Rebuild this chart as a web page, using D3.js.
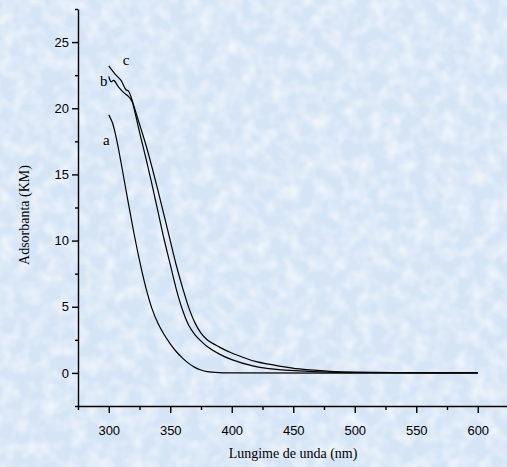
<!DOCTYPE html>
<html>
<head>
<meta charset="utf-8">
<script src="https://cdn.jsdelivr.net/npm/d3@7"></script>
<style>
  body { margin: 0; background: #dae8f6; }
  svg { display: block; }
</style>
</head>
<body>
<div id="chart"></div>
<script>
// canvas size
var svgWidth = 507;
var svgHeight = 467;

// spectra: [wavelength nm, absorbance KM]
var curveA = [[300, 19.5], [303, 18.9], [306, 17.8], [310, 15.9], [315, 13.3], [320, 10.8],
  [325, 8.5], [330, 6.5], [335, 4.9], [340, 3.75], [345, 2.9], [350, 2.2], [355, 1.6],
  [360, 1.12], [365, 0.72], [370, 0.42], [375, 0.22], [380, 0.1], [390, 0.02], [400, 0], [600, 0]];

var curveB = [[300, 22.4], [302, 22.0], [304, 22.1], [308, 21.6], [312, 21.2], [316, 20.9],
  [319, 20.5], [320, 20.2], [325, 18.2], [330, 16.3], [335, 14.3], [340, 12.2], [345, 10.1],
  [350, 8.2], [355, 6.3], [360, 4.75], [365, 3.6], [370, 2.9], [375, 2.4], [380, 2.0],
  [390, 1.42], [400, 1.0], [417, 0.53], [430, 0.33], [455, 0.15], [480, 0.06], [500, 0.03],
  [550, 0.01], [600, 0]];

var curveC = [[300, 23.2], [305, 22.6], [310, 22.1], [314, 21.4], [316, 21.3], [319, 20.6],
  [320, 20.3], [325, 18.8], [330, 17.3], [335, 15.6], [340, 13.8], [345, 11.9], [350, 10.0],
  [355, 8.1], [360, 6.45], [365, 4.95], [370, 3.8], [375, 3.0], [380, 2.5], [390, 1.95],
  [400, 1.5], [410, 1.15], [420, 0.85], [440, 0.5], [455, 0.3], [480, 0.12], [500, 0.06],
  [550, 0.02], [600, 0]];

var curveLabels = [
  {name: "a", x: 298, y: 17.2},
  {name: "b", x: 296, y: 21.7},
  {name: "c", x: 314, y: 23.3}
];

var xTicks = [300, 350, 400, 450, 500, 550, 600];
var xMinor = [275, 325, 375, 425, 475, 525, 575];
var yTicks = [0, 5, 10, 15, 20, 25];
var yMinor = [-2.5, 2.5, 7.5, 12.5, 17.5, 22.5, 27.5];

var svg = d3.select("#chart").append("svg")
  .attr("width", svgWidth)
  .attr("height", svgHeight);

// light blue mottled backdrop
var defs = svg.append("defs");
var filt = defs.append("filter").attr("id", "tex")
  .attr("x", 0).attr("y", 0).attr("width", "100%").attr("height", "100%");
filt.append("feTurbulence")
  .attr("type", "fractalNoise")
  .attr("baseFrequency", "0.07")
  .attr("numOctaves", 2)
  .attr("seed", 3);
filt.append("feColorMatrix")
  .attr("type", "matrix")
  .attr("values", "0 0 0 0 1  0 0 0 0 1  0 0 0 0 1  0 0 0 1.8 -0.7");

svg.append("rect")
  .attr("width", svgWidth).attr("height", svgHeight)
  .attr("fill", "#d6e5f6");
svg.append("rect")
  .attr("width", svgWidth).attr("height", svgHeight)
  .attr("filter", "url(#tex)")
  .attr("opacity", 0.7);

// scales
var x = d3.scaleLinear().domain([275, 625]).range([78, 508.5]);
var y = d3.scaleLinear().domain([-2.5, 27.5]).range([406, 9]);

// x axis
var xAxis = svg.append("g")
  .attr("transform", "translate(0,406)")
  .call(d3.axisBottom(x).tickValues(xTicks).tickSize(7).tickSizeOuter(0));
svg.append("g")
  .attr("transform", "translate(0,406)")
  .call(d3.axisBottom(x).tickValues(xMinor).tickSize(4).tickFormat("").tickSizeOuter(0))
  .select(".domain").remove();
xAxis.selectAll("text")
  .attr("dy", "1.45em")
  .style("font-family", "'Liberation Sans', Arial, sans-serif")
  .style("font-size", "13px");

// y axis
var yAxis = svg.append("g")
  .attr("transform", "translate(78,0)")
  .call(d3.axisLeft(y).tickValues(yTicks).tickSize(6).tickSizeOuter(0));
svg.append("g")
  .attr("transform", "translate(78,0)")
  .call(d3.axisLeft(y).tickValues(yMinor).tickSize(3).tickFormat("").tickSizeOuter(0))
  .select(".domain").remove();
yAxis.selectAll("text")
  .attr("x", -9)
  .style("font-family", "'Liberation Sans', Arial, sans-serif")
  .style("font-size", "13px");

svg.selectAll(".domain, .tick line")
  .attr("stroke", "#000")
  .attr("stroke-width", 1.4);

// spectra lines
var line = d3.line()
  .x(d => x(d[0]))
  .y(d => y(d[1]))
  .curve(d3.curveCatmullRom.alpha(0.5));

svg.selectAll(".spectrum")
  .data([curveA, curveB, curveC])
  .enter()
  .append("path")
  .attr("class", "spectrum")
  .attr("d", line)
  .attr("fill", "none")
  .attr("stroke", "#000")
  .attr("stroke-width", 1.2);

// curve letters
svg.selectAll(".clabel")
  .data(curveLabels)
  .enter()
  .append("text")
  .attr("x", d => x(d.x))
  .attr("y", d => y(d.y))
  .attr("text-anchor", "middle")
  .style("font-family", "'Liberation Serif', 'Times New Roman', serif")
  .style("font-size", "15px")
  .text(d => d.name);

// axis titles
svg.append("text")
  .attr("transform", "translate(29,215) rotate(-90)")
  .attr("text-anchor", "middle")
  .style("font-family", "'Liberation Serif', 'Times New Roman', serif")
  .style("font-size", "14px")
  .text("Adsorbanta (KM)");

svg.append("text")
  .attr("x", 293)
  .attr("y", 458)
  .attr("text-anchor", "middle")
  .style("font-family", "'Liberation Serif', 'Times New Roman', serif")
  .style("font-size", "14px")
  .text("Lungime de unda (nm)");
</script>
</body>
</html>
